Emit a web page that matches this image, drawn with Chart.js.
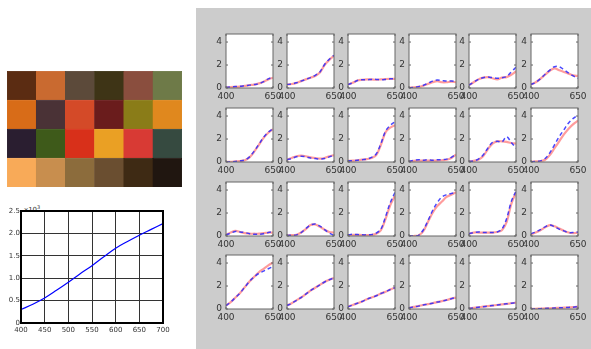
<!DOCTYPE html>
<html>
<head>
<meta charset="utf-8">
<script src="https://cdn.jsdelivr.net/npm/chart.js@4"></script>
<style>
body { margin:0; background:#fff; width:591px; height:349px; position:relative; overflow:hidden; font-family:"DejaVu Sans", sans-serif; }
canvas { position:absolute; }
#panel { position:absolute; left:196px; top:8px; width:395px; height:341px; background:#cccccc; }
#exp { position:absolute; left:24px; top:204px; font-size:7px; color:#333; }
#exp sup { font-size:5px; }
</style>
</head>
<body>
<div id="panel"></div>
<span id="exp">x10<sup>3</sup></span>
<script>
// colour patches, top row first
var patchRow1 = ['#5b2c12', '#c96a30', '#5c4a3a', '#3e3416', '#8a4e3e', '#6e7a48'];
var patchRow2 = ['#d86c18', '#4a3236', '#d44a28', '#6a1c1c', '#8a7c18', '#e0881e'];
var patchRow3 = ['#2a1e30', '#3e5a1a', '#d8301a', '#eaa024', '#d83a34', '#364a40'];
var patchRow4 = ['#f8aa58', '#c88e4e', '#8c6c3c', '#6a4e30', '#3e2a14', '#201610'];

// sensor curve (left bottom)
var respWl = [400, 425, 450, 475, 500, 525, 550, 575, 600, 625, 650, 675, 700];
var respVal = [0.3, 0.42, 0.56, 0.73, 0.91, 1.1, 1.28, 1.48, 1.67, 1.82, 1.96, 2.09, 2.22];
var respXTicks = [400, 450, 500, 550, 600, 650, 700];
var respYTicks = [0, 0.5, 1, 1.5, 2, 2.5];

// spectra, one array per patch (red = measured, blue = estimated)
var wl = [400, 425, 450, 475, 500, 525, 550, 575, 600, 625, 650];
var measRow1 = [
    [0.05,0.08,0.1,0.12,0.18,0.25,0.3,0.4,0.55,0.75,0.9],
    [0.3,0.35,0.45,0.6,0.75,0.9,1.05,1.35,2.0,2.45,2.8],
    [0.3,0.45,0.65,0.72,0.75,0.75,0.72,0.75,0.78,0.8,0.8],
    [0.02,0.05,0.1,0.2,0.35,0.5,0.6,0.5,0.5,0.55,0.5],
    [0.25,0.5,0.75,0.9,0.95,0.85,0.75,0.9,0.95,1.15,1.45],
    [0.3,0.5,0.8,1.15,1.5,1.7,1.55,1.4,1.25,1.1,1.05]
];
var estRow1 = [
    [0.05,0.1,0.12,0.15,0.2,0.25,0.3,0.38,0.55,0.8,0.95],
    [0.3,0.35,0.45,0.6,0.75,0.9,1.1,1.4,2.05,2.5,2.85],
    [0.3,0.45,0.65,0.72,0.72,0.75,0.75,0.72,0.75,0.8,0.82],
    [0.02,0.05,0.12,0.22,0.4,0.6,0.7,0.65,0.6,0.6,0.55],
    [0.25,0.5,0.75,0.9,0.95,0.9,0.85,0.9,1.0,1.4,1.8],
    [0.3,0.5,0.8,1.2,1.55,1.85,1.85,1.6,1.3,1.05,0.85]
];
var measRow2 = [
    [0,0.02,0.05,0.08,0.15,0.4,0.9,1.5,2.1,2.55,2.85],
    [0.2,0.35,0.5,0.55,0.5,0.4,0.35,0.3,0.35,0.5,0.6],
    [0.1,0.12,0.15,0.2,0.25,0.35,0.6,1.5,2.6,3.0,3.2],
    [0.05,0.1,0.12,0.12,0.12,0.12,0.12,0.15,0.2,0.35,0.65],
    [0.05,0.1,0.2,0.5,1.1,1.6,1.8,1.8,1.75,1.65,1.6],
    [0.02,0.05,0.08,0.2,0.6,1.2,1.8,2.4,2.9,3.3,3.6]
];
var estRow2 = [
    [0,0.02,0.05,0.1,0.18,0.45,0.95,1.55,2.15,2.6,2.9],
    [0.2,0.3,0.45,0.5,0.45,0.35,0.3,0.25,0.3,0.45,0.6],
    [0.1,0.12,0.15,0.2,0.25,0.4,0.7,1.6,2.7,3.2,3.5],
    [0.05,0.15,0.2,0.15,0.2,0.15,0.2,0.2,0.25,0.4,0.7],
    [0.05,0.1,0.25,0.6,1.2,1.7,1.8,1.75,2.2,1.7,1.2],
    [0.02,0.05,0.1,0.3,0.8,1.5,2.2,2.8,3.4,3.8,4.1]
];
var measRow3 = [
    [0.1,0.3,0.45,0.35,0.25,0.2,0.2,0.2,0.25,0.3,0.3],
    [0.05,0.07,0.1,0.3,0.6,0.95,1.0,0.8,0.55,0.35,0.3],
    [0.05,0.1,0.1,0.08,0.08,0.1,0.2,0.5,1.5,2.7,3.5],
    [0,0,0.05,0.4,1.2,2.0,2.6,3.0,3.4,3.6,3.8],
    [0.2,0.3,0.3,0.3,0.3,0.3,0.35,0.5,1.2,2.8,3.8],
    [0.15,0.3,0.5,0.75,0.95,0.85,0.65,0.45,0.3,0.25,0.3]
];
var estRow3 = [
    [0.1,0.25,0.4,0.35,0.3,0.2,0.15,0.15,0.2,0.3,0.4],
    [0.05,0.07,0.1,0.3,0.65,0.95,1.05,0.85,0.55,0.25,0.05],
    [0.1,0.15,0.12,0.1,0.1,0.12,0.25,0.6,1.7,2.9,3.8],
    [0,0,0.05,0.5,1.3,2.2,2.9,3.4,3.6,3.7,3.8],
    [0.2,0.3,0.35,0.3,0.3,0.3,0.35,0.6,1.5,3.0,3.9],
    [0.2,0.35,0.55,0.8,0.95,0.8,0.6,0.45,0.3,0.3,0.35]
];
var measRow4 = [
    [0.3,0.6,1.0,1.4,1.9,2.4,2.8,3.2,3.5,3.8,4.05],
    [0.3,0.5,0.75,1.0,1.3,1.6,1.85,2.1,2.35,2.55,2.7],
    [0.2,0.35,0.5,0.65,0.85,1.0,1.15,1.35,1.5,1.7,1.85],
    [0.1,0.18,0.25,0.35,0.42,0.5,0.6,0.68,0.78,0.9,1.0],
    [0.05,0.1,0.15,0.2,0.25,0.3,0.35,0.4,0.45,0.5,0.55],
    [0,0.02,0.03,0.05,0.06,0.08,0.1,0.12,0.14,0.16,0.2]
];
var estRow4 = [
    [0.3,0.6,1.0,1.4,1.9,2.4,2.8,3.1,3.3,3.5,3.7],
    [0.3,0.5,0.75,1.0,1.3,1.6,1.85,2.1,2.35,2.55,2.7],
    [0.2,0.35,0.5,0.65,0.85,1.0,1.15,1.35,1.5,1.7,1.85],
    [0.1,0.18,0.25,0.35,0.42,0.5,0.6,0.68,0.78,0.9,1.0],
    [0.05,0.1,0.15,0.2,0.25,0.3,0.35,0.4,0.45,0.5,0.55],
    [0,0.02,0.03,0.05,0.06,0.08,0.1,0.12,0.14,0.16,0.2]
];
var specXTicks = [400, 650];
var specYTicks = [0, 2, 4];

var frame = {
    id: 'frame',
    beforeDatasetsDraw: function (chart, args, opts) {
        if (!opts.fill) return;
        var a = chart.chartArea, ctx = chart.ctx;
        ctx.save();
        ctx.fillStyle = opts.fill;
        ctx.fillRect(a.left, a.top, a.right - a.left, a.bottom - a.top);
        ctx.restore();
    },
    afterDraw: function (chart, args, opts) {
        if (!opts.color) return;
        var a = chart.chartArea, ctx = chart.ctx;
        ctx.save();
        ctx.strokeStyle = opts.color;
        ctx.lineWidth = opts.width;
        ctx.strokeRect(a.left, a.top, a.right - a.left, a.bottom - a.top);
        if (opts.ticks) {
            var xs = chart.scales.x, ys = chart.scales.y, t = opts.ticks;
            ctx.beginPath();
            xs.ticks.forEach(function (tk) {
                var px = xs.getPixelForValue(tk.value);
                ctx.moveTo(px, a.bottom); ctx.lineTo(px, a.bottom - t);
                ctx.moveTo(px, a.top); ctx.lineTo(px, a.top + t);
            });
            ys.ticks.forEach(function (tk) {
                var py = ys.getPixelForValue(tk.value);
                ctx.moveTo(a.left, py); ctx.lineTo(a.left + t, py);
                ctx.moveTo(a.right, py); ctx.lineTo(a.right - t, py);
            });
            ctx.stroke();
        }
        ctx.restore();
    }
};
Chart.register(frame);

function addCanvas(left, top, w, h) {
    var c = document.createElement('canvas');
    c.width = w; c.height = h;
    c.style.left = left + 'px';
    c.style.top = top + 'px';
    document.body.appendChild(c);
    return c;
}

function fixTicks(list) {
    return function (s) { s.ticks = list.map(function (v) { return {value: v}; }); };
}
// fixed axis size, no extra label padding so the plot box lands where we want
function fixWidth(w) {
    return function (s) { s.width = w; s.paddingTop = 0; s.paddingBottom = 0; };
}
function fixHeight(h) {
    return function (s) { s.height = h; s.paddingLeft = 0; s.paddingRight = 0; };
}

// colour checker
var patchCanvas = addCanvas(7, 71, 175, 116);
var rowsBottomUp = [patchRow4, patchRow3, patchRow2, patchRow1];
new Chart(patchCanvas, {
    type: 'bar',
    data: {
        labels: patchRow1.map(function (c, i) { return 'p' + (i + 1); }),
        datasets: rowsBottomUp.map(function (row) {
            return {
                data: row.map(function () { return 1; }),
                backgroundColor: row,
                borderColor: row,
                borderWidth: 0.5,
                barPercentage: 1,
                categoryPercentage: 1
            };
        })
    },
    options: {
        animation: false,
        responsive: false,
        plugins: {legend: {display: false}, tooltip: {enabled: false}},
        layout: {padding: 0},
        scales: {
            x: {display: false, stacked: true},
            y: {display: false, stacked: true, min: 0, max: 4}
        }
    }
});

// sensor response curve
var respCanvas = addCanvas(0, 195, 175, 150);
new Chart(respCanvas, {
    type: 'line',
    data: {
        datasets: [{
            data: respWl.map(function (x, i) { return {x: x, y: respVal[i]}; }),
            borderColor: '#0000ff',
            borderWidth: 1.2,
            pointRadius: 0,
            tension: 0.4
        }]
    },
    options: {
        animation: false,
        responsive: false,
        plugins: {legend: {display: false}, tooltip: {enabled: false},
                  frame: {color: '#000', width: 2}},
        layout: {padding: {left: 0, top: 16, right: 12, bottom: 0}},
        scales: {
            x: {
                type: 'linear', min: 400, max: 700,
                afterBuildTicks: fixTicks(respXTicks),
                afterFit: fixHeight(22),
                grid: {color: '#333', lineWidth: 1, drawTicks: false},
                border: {color: '#000'},
                ticks: {font: {size: 7, family: 'DejaVu Sans'}, color: '#333', padding: 3, maxRotation: 0}
            },
            y: {
                min: 0, max: 2.5,
                afterBuildTicks: fixTicks(respYTicks),
                afterFit: fixWidth(21),
                grid: {color: '#333', lineWidth: 1, drawTicks: false},
                border: {color: '#000'},
                ticks: {font: {size: 7, family: 'DejaVu Sans'}, color: '#333', padding: 1}
            }
        }
    }
});

// 4 x 6 spectra
var plotLefts = [226, 287, 348, 409, 469, 531];
var plotTops = [34, 108, 182, 255];
var measRows = [measRow1, measRow2, measRow3, measRow4];
var estRows = [estRow1, estRow2, estRow3, estRow4];
var tickFont = {size: 9, family: 'DejaVu Sans'};

measRows.forEach(function (row, r) {
    row.forEach(function (meas, k) {
        var est = estRows[r][k];
        var cv = addCanvas(plotLefts[k] - 18, plotTops[r] - 5, 47 + 18 + 10, 54 + 5 + 14);
        new Chart(cv, {
            type: 'line',
            data: {
                datasets: [{
                    data: wl.map(function (x, i) { return {x: x, y: est[i]}; }),
                    borderColor: 'rgba(40,40,255,0.85)',
                    borderWidth: 1.5,
                    borderDash: [4, 3],
                    pointRadius: 0,
                    tension: 0.35
                }, {
                    data: wl.map(function (x, i) { return {x: x, y: meas[i]}; }),
                    borderColor: 'rgba(255,90,90,0.6)',
                    borderWidth: 2.2,
                    pointRadius: 0,
                    tension: 0.35
                }]
            },
            options: {
                animation: false,
                responsive: false,
                plugins: {legend: {display: false}, tooltip: {enabled: false},
                          frame: {color: '#666', width: 1, fill: '#fff', ticks: 2}},
                layout: {padding: {left: 0, top: 5, right: 10, bottom: 0}},
                scales: {
                    x: {
                        type: 'linear', min: 400, max: 650,
                        afterBuildTicks: fixTicks(specXTicks),
                        afterFit: fixHeight(14),
                        grid: {display: false, drawTicks: false},
                        border: {display: false},
                        ticks: {font: tickFont, color: '#333', padding: 3, maxRotation: 0}
                    },
                    y: {
                        min: 0, max: 4.7,
                        afterBuildTicks: fixTicks(specYTicks),
                        afterFit: fixWidth(18),
                        grid: {display: false, drawTicks: false},
                        border: {display: false},
                        ticks: {font: tickFont, color: '#333', padding: 4}
                    }
                }
            }
        });
    });
});
</script>
</body>
</html>
